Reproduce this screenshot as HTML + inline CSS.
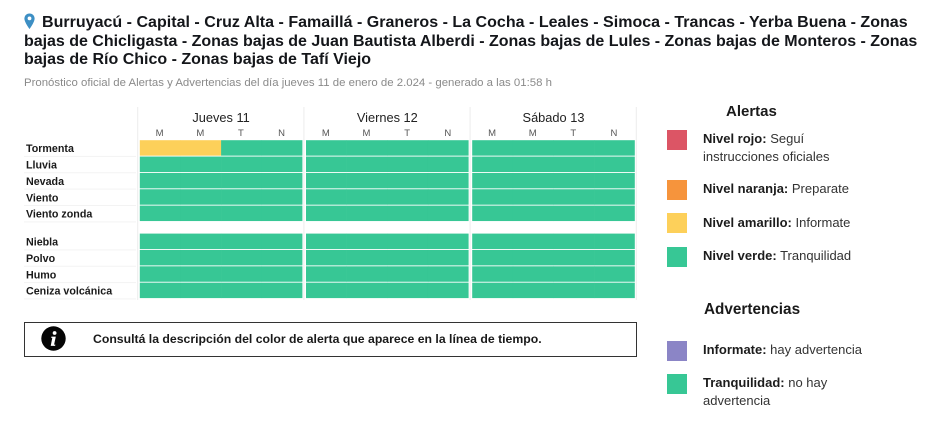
<!DOCTYPE html>
<html lang="es">
<head>
<meta charset="utf-8">
<title>Alertas</title>
<style>
html,body{margin:0;padding:0;background:#fff;}
#page{position:relative;width:940px;height:432px;overflow:hidden;background:#fff;font-family:"Liberation Sans",sans-serif;color:#111;}
.t{position:absolute;white-space:nowrap;}
.title{font-size:16px;font-weight:bold;line-height:18px;color:#14161a;}
.leg{font-size:13px;line-height:18px;color:#333;}
.leg b{color:#1c1c1c;}
.sw{position:absolute;width:20px;height:20px;}
svg text{font-family:"Liberation Sans",sans-serif;}
</style>
</head>
<body>
<div id="page">
  <svg style="position:absolute;left:24px;top:13px" width="12" height="17" viewBox="0 0 12 17">
    <path d="M5.5 0.5C2.5 0.5 .4 2.8 .4 5.6c0 3.6 5.1 10.4 5.1 10.4s5.1-6.8 5.1-10.4C10.6 2.8 8.5 .5 5.5 .5z" fill="#3d8fc4"/>
    <circle cx="5.5" cy="5.4" r="1.9" fill="#fff"/>
  </svg>
  <div class="t title" style="left:42px;top:14px;letter-spacing:0.02px">Burruyacú - Capital - Cruz Alta - Famaillá - Graneros - La Cocha - Leales - Simoca - Trancas - Yerba Buena - Zonas</div>
  <div class="t title" style="left:24px;top:33px;letter-spacing:-0.02px">bajas de Chicligasta - Zonas bajas de Juan Bautista Alberdi - Zonas bajas de Lules - Zonas bajas de Monteros - Zonas</div>
  <div class="t title" style="left:24px;top:51px">bajas de Río Chico - Zonas bajas de Tafí Viejo</div>
  <div class="t" style="left:24px;top:76px;font-size:11.4px;line-height:15px;color:#8a8a8a">Pronóstico oficial de Alertas y Advertencias del día jueves 11 de enero de 2.024 - generado a las 01:58 h</div>

  <svg id="chart" style="position:absolute;left:0;top:0" width="940" height="432"></svg>

  <div style="position:absolute;left:24px;top:322px;width:611px;height:33px;border:1px solid #333"></div>
  <svg style="position:absolute;left:41px;top:326px" width="25" height="25" viewBox="0 0 25 25">
    <circle cx="12.5" cy="12.5" r="12.2" fill="#050505"/>
    <circle cx="13.6" cy="7" r="1.9" fill="#fff"/>
    <path d="M10.4 10.6h4.4l-1.7 8h1.3l-.3 1.3H9.7l1.6-8h-1.1z" fill="#fff"/>
  </svg>
  <div class="t" style="left:93px;top:331px;font-size:12.25px;line-height:16px;font-weight:bold;color:#1a1a1a">Consultá la descripción del color de alerta que aparece en la línea de tiempo.</div>

  <div class="t" style="left:726px;top:103px;font-size:15px;line-height:18px;font-weight:bold;color:#1a1a1a">Alertas</div>
  <div class="sw" style="left:667px;top:130px;background:#dc5565"></div>
  <div class="t leg" style="left:703px;top:130px"><b>Nivel rojo:</b> Seguí<br>instrucciones oficiales</div>
  <div class="sw" style="left:667px;top:180px;background:#f6943c"></div>
  <div class="t leg" style="left:703px;top:180px"><b>Nivel naranja:</b> Preparate</div>
  <div class="sw" style="left:667px;top:213px;background:#fdd05a"></div>
  <div class="t leg" style="left:703px;top:214px"><b>Nivel amarillo:</b> Informate</div>
  <div class="sw" style="left:667px;top:247px;background:#37c795"></div>
  <div class="t leg" style="left:703px;top:247px"><b>Nivel verde:</b> Tranquilidad</div>

  <div class="t" style="left:704px;top:301px;font-size:15.3px;line-height:18px;font-weight:bold;color:#1a1a1a">Advertencias</div>
  <div class="sw" style="left:667px;top:341px;background:#8b85c6"></div>
  <div class="t leg" style="left:703px;top:341px"><b>Informate:</b> hay advertencia</div>
  <div class="sw" style="left:667px;top:374px;background:#37c795"></div>
  <div class="t leg" style="left:703px;top:374px"><b>Tranquilidad:</b> no hay<br>advertencia</div>
</div>
<script>
const days = ['Jueves 11', 'Viernes 12', 'Sábado 13'];
const slots = ['M', 'M', 'T', 'N'];
const alertHazards = ['Tormenta', 'Lluvia', 'Nevada', 'Viento', 'Viento zonda'];
const warningHazards = ['Niebla', 'Polvo', 'Humo', 'Ceniza volcánica'];
const levelColors = {verde: '#37c795', amarillo: '#fdd05a', naranja: '#f6943c', rojo: '#dc5565', violeta: '#8b85c6'};
const tormentaLevels = ['amarillo','amarillo','verde','verde','verde','verde','verde','verde','verde','verde','verde','verde'];
const lluviaLevels = ['verde','verde','verde','verde','verde','verde','verde','verde','verde','verde','verde','verde'];
const nevadaLevels = ['verde','verde','verde','verde','verde','verde','verde','verde','verde','verde','verde','verde'];
const vientoLevels = ['verde','verde','verde','verde','verde','verde','verde','verde','verde','verde','verde','verde'];
const zondaLevels = ['verde','verde','verde','verde','verde','verde','verde','verde','verde','verde','verde','verde'];
const nieblaLevels = ['verde','verde','verde','verde','verde','verde','verde','verde','verde','verde','verde','verde'];
const polvoLevels = ['verde','verde','verde','verde','verde','verde','verde','verde','verde','verde','verde','verde'];
const humoLevels = ['verde','verde','verde','verde','verde','verde','verde','verde','verde','verde','verde','verde'];
const cenizaLevels = ['verde','verde','verde','verde','verde','verde','verde','verde','verde','verde','verde','verde'];
const alertLevels = [tormentaLevels, lluviaLevels, nevadaLevels, vientoLevels, zondaLevels];
const warningLevels = [nieblaLevels, polvoLevels, humoLevels, cenizaLevels];

const svg = document.getElementById('chart');
const NS = 'http://www.w3.org/2000/svg';
function mk(tag, attrs, txt) {
  const el = document.createElementNS(NS, tag);
  for (const k in attrs) el.setAttribute(k, attrs[k]);
  if (txt !== undefined) el.textContent = txt;
  svg.appendChild(el);
  return el;
}
const dayW = 166.2, dayX0 = 139.8, barW = 162.6;
function xDay(d) { return dayX0 + d * dayW; }
function xSlot(d, s) { return xDay(d) + s * barW / slots.length; }
const rowH = 16.35, alertTop = 140.2, warnTop = 233.6;
function yAlert(r) { return alertTop + r * rowH; }
function yWarn(r) { return warnTop + r * rowH; }

for (let d = 0; d <= days.length; d++) {
  const line = mk('rect', {x: xDay(d) - 2.6, y: 107, width: 1, height: 193, fill: '#ececec'});
  
  
}
days.forEach((day, d) => {
  const label = mk('text', {x: xDay(d) + barW / 2, y: 122, 'text-anchor': 'middle', 'font-size': 12.8, fill: '#222'}, day);
  
  
  slots.forEach((slot, s) => {
    const sl = mk('text', {x: xSlot(d, s) + barW / 8 - 0.5, y: 136, 'text-anchor': 'middle', 'font-size': 9.5, fill: '#555'}, slot);
    
    
  });
});
function drawGroup(names, levels, yFn) {
  names.forEach((name, r) => {
    const y = yFn(r);
    const sep = mk('rect', {x: 24, y: y + rowH - 0.6, width: 112, height: 1, fill: '#f3f3f3'});
    
    
    const lab = mk('text', {x: 26, y: y + 12, 'font-size': 10.7, 'font-weight': 'bold', fill: '#1a1a1a'}, name);
    
    
    levels[r].forEach((lev, i) => {
      const d = Math.floor(i / slots.length), s = i % slots.length;
      const cell = mk('rect', {x: xSlot(d, s), y: y, width: barW / slots.length + (s < slots.length - 1 ? 0.3 : 0), height: rowH - 0.9, fill: levelColors[lev]});
      
      
    });
  });
}
drawGroup(alertHazards, alertLevels, yAlert);
drawGroup(warningHazards, warningLevels, yWarn);
</script>
</body>
</html>
